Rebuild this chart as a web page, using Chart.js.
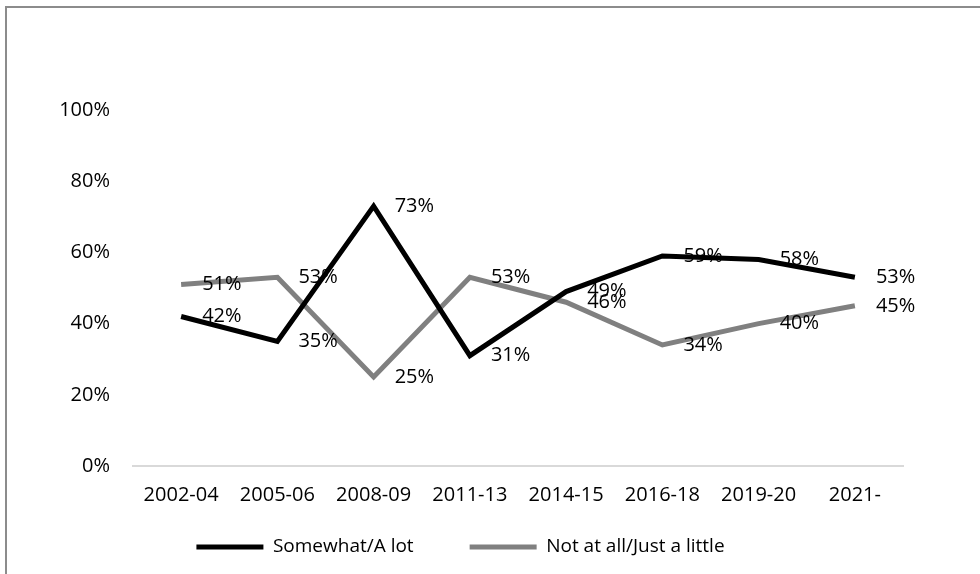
<!DOCTYPE html>
<html>
<head>
<meta charset="utf-8">
<script src="https://cdn.jsdelivr.net/npm/chart.js@4"></script>
<style>
  html, body { margin: 0; padding: 0; background: #fff; }
  #wrap { position: relative; width: 980px; height: 574px; overflow: hidden; }
  #frame { position: absolute; left: 5px; top: 6px; width: 1000px; height: 600px;
           border-left: 2px solid #8c8c8c; border-top: 2px solid #8c8c8c; }
  canvas { position: absolute; left: 0; top: 0; }
</style>
</head>
<body>
<div id="wrap">
  <div id="frame"></div>
  <canvas id="linechart" width="980" height="574"></canvas>
</div>
<script>
// data
var periods = ['2002-04','2005-06','2008-09','2011-13','2014-15','2016-18','2019-20','2021-'];
var somewhat = [42, 35, 73, 31, 49, 59, 58, 53];
var notAtAll = [51, 53, 25, 53, 46, 34, 40, 45];
var yTicks = [0, 20, 40, 60, 80, 100];

var font = "'Open Sans', sans-serif";

// value labels to the right of each point
var valueLabels = {
  id: 'valueLabels',
  afterDatasetsDraw: function(chart) {
    var ctx = chart.ctx;
    ctx.save();
    ctx.font = "20px " + font;
    ctx.fillStyle = '#000';
    ctx.textAlign = 'left';
    ctx.textBaseline = 'middle';
    chart.data.datasets.forEach(function(ds, i) {
      chart.getDatasetMeta(i).data.forEach(function(pt, j) {
        ctx.fillText(ds.data[j] + '%', pt.x + 21, pt.y);
      });
    });
    ctx.restore();
  }
};

// move the legend up/right to where the original sits
var legendShift = {
  id: 'legendShift',
  afterLayout: function(chart) {
    var lg = chart.legend;
    lg.top = 481.5;
    lg.bottom = chart.height;
    lg.left += 9; lg.right += 9;
  }
};

var lch = document.getElementById("linechart").getContext("2d");
var configlchart = {
  type: "line",
  data: {
    labels: periods,
    datasets: [{
      label: 'Somewhat/A lot',
      data: somewhat,
      borderColor: '#000000',
      backgroundColor: '#000000',
      borderWidth: 5,
      tension: 0,
      pointRadius: 0
    }, {
      label: 'Not at all/Just a little',
      data: notAtAll,
      borderColor: '#808080',
      backgroundColor: '#808080',
      borderWidth: 5,
      tension: 0,
      pointRadius: 0
    }]
  },
  options: {
    responsive: false,
    devicePixelRatio: 1,
    animation: false,
    layout: { padding: { top: 110, right: 77, bottom: 0, left: 0 } },
    plugins: {
      tooltip: { enabled: false },
      legend: {
        position: 'bottom',
        maxHeight: 63,
        labels: {
          boxWidth: 67,
          boxHeight: 5,
          padding: 56,
          color: '#000',
          font: { family: font, size: 19 },
          generateLabels: function(chart) {
            return Chart.defaults.plugins.legend.labels.generateLabels(chart).map(function(l) {
              l.lineWidth = 0;
              l.fillStyle = l.strokeStyle;
              return l;
            });
          }
        }
      }
    },
    scales: {
      x: {
        offset: true,
        grid: { display: false, drawTicks: false },
        border: { display: true, color: '#d9d9d9', width: 2 },
        ticks: { color: '#000', padding: 17, maxRotation: 0, autoSkip: false, font: { family: font, size: 20 } },
        afterFit: function(scale) { scale.height = 45; }
      },
      y: {
        min: 0,
        max: 100,
        grid: { display: false, drawTicks: false },
        border: { display: false },
        afterBuildTicks: function(scale) { scale.ticks = yTicks.map(function(v) { return { value: v }; }); },
        ticks: {
          color: '#000',
          padding: 23,
          font: { family: font, size: 20 },
          callback: function(v) { return v + '%'; }
        },
        afterFit: function(scale) { scale.width = 133; }
      }
    }
  },
  plugins: [valueLabels, legendShift]
};
var lchart = new Chart(lch, configlchart);
</script>
</body>
</html>
